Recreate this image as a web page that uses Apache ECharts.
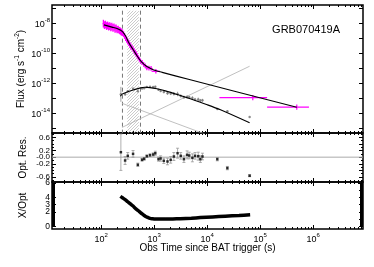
<!DOCTYPE html>
<html><head><meta charset="utf-8">
<script src="https://cdn.jsdelivr.net/npm/echarts@6/dist/echarts.min.js"></script>
<style>html,body{margin:0;padding:0;background:#fff}#c{width:374px;height:267px}</style>
</head><body><div id="c"></div>
<script>
// All times and fluxes are log10 values (time in s, flux in erg s^-1 cm^-2)
const X_MIN = 1.07, X_MAX = 6.94;
const FLUX_MIN = -15.34, FLUX_MAX = -6.77;
const RES_MIN = -0.75, RES_MAX = 0.73;
const RATIO_MIN = -0.38, RATIO_MAX = 6.14;

const timeLabelExp = [2, 3, 4, 5, 6];
const fluxLabelExp = [-14, -12, -10, -8];
const fluxTickExp = [-15, -14, -13, -12, -11, -10, -9, -8, -7];
const resLabels = [-0.6, -0.4, -0.2, 0, 0.2, 0.4, 0.6];
const ratioLabels = [0, 1, 2, 3, 4, 5, 6];

// X-ray (magenta) data
const xrayT = [2.04,2.06,2.08,2.10,2.12,2.14,2.16,2.18,2.20,2.22,2.24,2.26,2.28,2.30,2.32,2.34,2.36,2.38,2.40,2.42,2.44,2.46,2.48,2.50,2.52,2.54,2.56,2.58,2.60,2.62,2.64,2.66,2.68,2.70,2.72,2.74,2.77,2.80,2.83,2.86,2.90,2.94,3.03];
const xrayF = [-8.02,-8.12,-8.08,-8.18,-8.14,-8.22,-8.18,-8.26,-8.22,-8.30,-8.27,-8.36,-8.33,-8.42,-8.40,-8.48,-8.52,-8.58,-8.62,-8.72,-8.84,-8.98,-9.10,-9.22,-9.32,-9.45,-9.55,-9.62,-9.72,-9.85,-9.95,-10.05,-10.18,-10.30,-10.40,-10.52,-10.62,-10.75,-10.85,-10.98,-11.00,-11.02,-11.21];
const xrayFErr = [0.26,0.26,0.26,0.26,0.26,0.26,0.26,0.26,0.26,0.26,0.26,0.26,0.26,0.24,0.24,0.24,0.24,0.24,0.22,0.2,0.2,0.2,0.2,0.2,0.2,0.2,0.2,0.18,0.18,0.18,0.18,0.18,0.18,0.16,0.16,0.16,0.16,0.16,0.16,0.16,0.16,0.16,0.15];
const xrayTErr = [0.015,0.015,0.015,0.015,0.015,0.015,0.015,0.015,0.015,0.015,0.015,0.015,0.015,0.015,0.015,0.015,0.015,0.015,0.015,0.015,0.015,0.015,0.015,0.015,0.015,0.015,0.015,0.015,0.015,0.015,0.015,0.015,0.015,0.018,0.018,0.018,0.02,0.02,0.02,0.025,0.03,0.03,0.08];
const xrayLateT = [4.86, 5.69];
const xrayLateF = [-12.97, -13.61];
const xrayLateTLo = [4.23, 5.13];
const xrayLateTHi = [5.13, 5.92];
const xrayLateFErr = [0.18, 0.18];

// X-ray model
const xrayModelT = [2.05,2.20,2.32,2.40,2.46,2.52,2.60,2.68,2.76,2.84,2.92,3.02,3.15,3.68,5.69];
const xrayModelF = [-8.10,-8.25,-8.38,-8.55,-8.85,-9.30,-9.75,-10.20,-10.58,-10.84,-11.00,-11.16,-11.28,-11.78,-13.61];

// Optical model
const optModelT = [2.36,2.40,2.50,2.62,2.74,2.82,2.92,3.05,3.21,3.45,3.68,4.00,4.25,4.80];
const optModelF = [-12.88,-12.72,-12.58,-12.44,-12.32,-12.28,-12.30,-12.38,-12.52,-12.78,-13.05,-13.45,-13.79,-14.66];

// Optical data
const optT = [2.37,2.45,2.50,2.60,2.69,2.77,2.81,2.86,2.92,2.98,3.02,3.08,3.12,3.18,3.25,3.31,3.37,3.44,3.50,3.56,3.62,3.66,3.72,3.77,3.83,3.87,3.91,4.19,4.38,4.80];
const optF = [-12.75,-12.75,-12.55,-12.38,-12.55,-12.36,-12.34,-12.26,-12.24,-12.26,-12.24,-12.45,-12.52,-12.60,-12.68,-12.70,-12.72,-12.73,-12.86,-12.94,-12.93,-12.95,-13.00,-13.09,-13.09,-13.16,-13.15,-13.74,-13.88,-14.27];
const optFErr = [0.5,0.1,0.08,0.08,0.05,0.04,0.04,0.04,0.04,0.05,0.06,0.06,0.08,0.08,0.1,0.1,0.12,0.15,0.1,0.1,0.12,0.1,0.12,0.1,0.12,0.1,0.1,0.05,0.05,0.03];

// Model components (thin grey)
const compRiseT = [2.39, 4.80];
const compRiseF = [-14.97, -10.87];
const compFallT = [2.39, 3.95];
const compFallF = [-13.35, -15.40];

// Vertical dashed lines and hatched interval
const dashT = [2.40, 2.74];
const dashTopF = -7.15;
const hatchT = [2.49, 2.71];

// Residuals
const resT = optT;
const resV = [0.15,-0.10,0.04,0.10,-0.23,-0.08,-0.05,0.03,0.06,0.08,0.12,-0.06,-0.04,-0.11,-0.13,-0.08,0.02,0.12,0.04,-0.06,0.07,0.05,-0.02,0.04,0.03,-0.06,0.02,-0.06,-0.33,-0.56];
const resErr = [0.55,0.12,0.10,0.10,0.05,0.04,0.04,0.04,0.04,0.05,0.06,0.06,0.08,0.08,0.10,0.10,0.12,0.15,0.10,0.10,0.12,0.10,0.12,0.10,0.12,0.10,0.10,0.05,0.05,0.03];

// X/Opt ratio
const ratioT = [2.36,2.40,2.45,2.50,2.55,2.60,2.64,2.70,2.74,2.79,2.83,2.88,2.92,2.97,3.02,3.10,3.21,3.35,3.49,3.70,3.87,4.10,4.34,4.60,4.81];
const ratioV = [4.15,3.95,3.70,3.40,3.10,2.80,2.50,2.15,1.90,1.62,1.40,1.22,1.10,1.04,1.00,0.99,1.00,1.02,1.05,1.12,1.20,1.30,1.40,1.50,1.60];

const FONT = 'Liberation Sans, Arial, DejaVu Sans, sans-serif';
const zip = (a, b) => a.map((v, i) => [v, b[i]]);

const xMinor = [];
for (let e = 1; e <= 6; e++) for (let k = 2; k <= 9; k++) {
  const v = e + Math.log10(k);
  if (v > X_MIN && v < X_MAX) xMinor.push(v);
}
const range = (a, b, s) => { const r = []; for (let v = a; v <= b + 1e-9; v += s) r.push(+v.toFixed(4)); return r; };

const grids = [
  {left: 52, right: 11, top: 5, height: 128},
  {left: 52, right: 11, top: 133, height: 49},
  {left: 52, right: 11, top: 182, height: 47}
].map(g => Object.assign(g, {show: true, borderColor: '#000', borderWidth: 1.5, backgroundColor: 'transparent'}));

const xAxes = [], yAxes = [];
function tickAxis(base, vals, len) {
  return Object.assign({
    type: 'value', axisLine: {show: false, onZero: false}, splitLine: {show: false},
    axisTick: {show: true, inside: true, length: len, customValues: vals, lineStyle: {color: '#000', width: 1}},
    axisLabel: {show: false}
  }, base);
}
const labelRich = {
  b: {fontSize: 9, fontFamily: FONT, color: '#000', lineHeight: 12, verticalAlign: 'bottom'},
  s: {fontSize: 6, fontFamily: FONT, color: '#000', lineHeight: 12, verticalAlign: 'top'},
  r: {fontSize: 8, fontFamily: FONT, color: '#000', lineHeight: 5},
  q: {fontSize: 8.5, fontFamily: FONT, color: '#000', lineHeight: 5}
};
[0, 1, 2].forEach(gi => {
  const bx = {gridIndex: gi, min: X_MIN, max: X_MAX};
  const main = tickAxis(Object.assign({position: 'bottom'}, bx), timeLabelExp, 4);
  if (gi === 2) {
    main.axisLabel = {show: true, customValues: timeLabelExp, margin: 3, showMinLabel: true, showMaxLabel: true,
      formatter: v => '{b|10}{s|' + Math.round(v) + '}', rich: labelRich};
    main.name = 'Obs Time since BAT trigger (s)';
    main.nameLocation = 'middle';
    main.nameGap = 14;
    main.nameMoveOverlap = false;
    main.nameTextStyle = {fontSize: 10, fontFamily: FONT, color: '#000'};
  }
  xAxes.push(main);
  xAxes.push(tickAxis(Object.assign({position: 'bottom'}, bx), xMinor, 2));
  xAxes.push(tickAxis(Object.assign({position: 'top'}, bx), timeLabelExp, 4));
  xAxes.push(tickAxis(Object.assign({position: 'top'}, bx), xMinor, 2));
});

// y axes
const yCfg = [
  {min: FLUX_MIN, max: FLUX_MAX, major: fluxTickExp, minor: [], minorLen: 2, labels: fluxLabelExp,
   fmt: v => '{b|10}{s|' + Math.round(v) + '}',
   name: '{n|Flux (erg s}{s|-1}{n| cm}{s|-2}{n|)}', nameGap: 26},
  {min: RES_MIN, max: RES_MAX, major: resLabels, minor: range(-0.7, 0.7, 0.1), minorLen: 2, labels: resLabels,
   fmt: v => '{r|' + (Math.abs(v) < 1e-6 ? '-0.0' : v.toFixed(1)) + '}', name: 'Opt. Res.', nameGap: 24},
  {min: RATIO_MIN, max: RATIO_MAX, major: ratioLabels, minor: range(0, 6, 0.1), minorLen: 3, labels: ratioLabels,
   fmt: v => '{q|' + Math.round(v) + '}', name: 'X/Opt', nameGap: 24}
];
yCfg.forEach((c, gi) => {
  const by = {gridIndex: gi, min: c.min, max: c.max};
  const main = tickAxis(Object.assign({position: 'left'}, by), c.major, 4);
  main.axisLabel = {show: true, customValues: c.labels, margin: 2, formatter: c.fmt, interval: 0,
    showMinLabel: true, showMaxLabel: true, hideOverlap: false, rich: labelRich};
  main.name = c.name;
  main.nameLocation = 'middle';
  main.nameRotate = 90;
  main.nameGap = c.nameGap;
  main.nameMoveOverlap = false;
  main.nameTextStyle = {fontSize: 10, fontFamily: FONT, color: '#000',
    rich: {n: {fontSize: 10, fontFamily: FONT, lineHeight: 12, verticalAlign: 'bottom'},
           s: {fontSize: 6.5, fontFamily: FONT, lineHeight: 12, verticalAlign: 'top'}}};
  yAxes.push(main);
  yAxes.push(tickAxis(Object.assign({position: 'left'}, by), c.minor, c.minorLen));
  yAxes.push(tickAxis(Object.assign({position: 'right'}, by), c.major, 4));
  yAxes.push(tickAxis(Object.assign({position: 'right'}, by), c.minor, c.minorLen));
});

function errSeries(rows, gi, color, lw, cap) {
  return {
    type: 'custom', xAxisIndex: gi * 4, yAxisIndex: gi * 4, clip: true, silent: true,
    data: rows, z: 3,
    renderItem: (params, api) => {
      const x = api.value(0), y = api.value(1);
      const c = api.coord([x, y]);
      const lo = api.coord([api.value(2), api.value(4)]);
      const hi = api.coord([api.value(3), api.value(5)]);
      const st = {stroke: color, lineWidth: lw};
      const ch = [{type: 'line', shape: {x1: c[0], y1: lo[1], x2: c[0], y2: hi[1]}, style: st}];
      if (hi[0] - lo[0] > 0.5) ch.push({type: 'line', shape: {x1: lo[0], y1: c[1], x2: hi[0], y2: c[1]}, style: st});
      if (cap) {
        ch.push({type: 'line', shape: {x1: c[0] - cap, y1: lo[1], x2: c[0] + cap, y2: lo[1]}, style: st});
        ch.push({type: 'line', shape: {x1: c[0] - cap, y1: hi[1], x2: c[0] + cap, y2: hi[1]}, style: st});
      }
      return {type: 'group', children: ch};
    }
  };
}

const xrayRows = xrayT.map((t, i) => [t, xrayF[i], t - xrayTErr[i], t + xrayTErr[i], xrayF[i] - xrayFErr[i], xrayF[i] + xrayFErr[i]]);
const xrayLateRows = xrayLateT.map((t, i) => [t, xrayLateF[i], xrayLateTLo[i], xrayLateTHi[i], xrayLateF[i] - xrayLateFErr[i], xrayLateF[i] + xrayLateFErr[i]]);
const optRows = optT.map((t, i) => [t, optF[i], t, t, optF[i] - optFErr[i], optF[i] + optFErr[i]]);
const resRows = resT.map((t, i) => [t, resV[i], t, t, resV[i] - resErr[i], resV[i] + resErr[i]]);

// hatch pattern
const pc = document.createElement('canvas');
pc.width = 3; pc.height = 3;
const px = pc.getContext('2d');
px.strokeStyle = '#b4b4b4'; px.lineWidth = 0.7;
px.beginPath(); px.moveTo(0, 3); px.lineTo(3, 0); px.moveTo(-1, 1); px.lineTo(1, -1); px.moveTo(2, 4); px.lineTo(4, 2); px.stroke();

const lineS = (data, gi, color, w, z, extra) => Object.assign({
  type: 'line', xAxisIndex: gi * 4, yAxisIndex: gi * 4, data, symbol: 'none', silent: true, z,
  lineStyle: {color, width: w}, clip: true
}, extra || {});

const series = [
  lineS([], 0, '#000', 1, 1, {markArea: {silent: true, itemStyle: {color: {image: pc, repeat: 'repeat'}},
    data: [[{xAxis: hatchT[0], yAxis: dashTopF}, {xAxis: hatchT[1], yAxis: FLUX_MIN}]]}}),
  ...dashT.map(t => lineS([[t, dashTopF], [t, FLUX_MIN]], 0, '#666', 1, 2, {lineStyle: {color: '#777', width: 1, type: [4, 3]}})),
  lineS(zip(compRiseT, compRiseF), 0, '#b0b0b0', 0.8, 2),
  lineS(zip(compFallT, compFallF), 0, '#b0b0b0', 0.8, 2),
  errSeries(optRows, 0, '#8a8a8a', 0.8, 0),
  {type: 'scatter', xAxisIndex: 0, yAxisIndex: 0, data: zip(optT, optF), symbol: 'circle', symbolSize: 2.5,
   itemStyle: {color: '#777'}, silent: true, z: 3},
  errSeries(xrayRows, 0, '#ff00ff', 1.3, 0),
  errSeries(xrayLateRows, 0, '#ff00ff', 1.2, 0),
  lineS(zip(xrayModelT, xrayModelF), 0, '#000', 1.1, 5, {smooth: 0.3}),
  lineS(zip(optModelT, optModelF), 0, '#000', 1.1, 5, {smooth: 0.3}),
  // residuals
  lineS([[X_MIN, 0], [X_MAX, 0]], 1, '#aaaaaa', 1, 1),
  errSeries(resRows, 1, '#999', 0.8, 1.5),
  {type: 'scatter', xAxisIndex: 4, yAxisIndex: 4, data: zip(resT, resV), symbol: 'rect', symbolSize: 2.5,
   itemStyle: {color: '#000'}, silent: true, z: 4},
  // ratio
  lineS(zip(ratioT, ratioV), 2, '#000', 3.5, 3, {smooth: 0.3})
];

const chart = echarts.init(document.getElementById('c'), null, {renderer: 'canvas'});
chart.setOption({
  animation: false,
  backgroundColor: '#fff',
  title: {text: 'GRB070419A', right: 29, top: 19, textStyle: {fontSize: 11, fontWeight: 'normal', fontFamily: FONT, color: '#000'}},
  grid: grids,
  xAxis: xAxes,
  yAxis: yAxes,
  series
});
</script></body></html>
